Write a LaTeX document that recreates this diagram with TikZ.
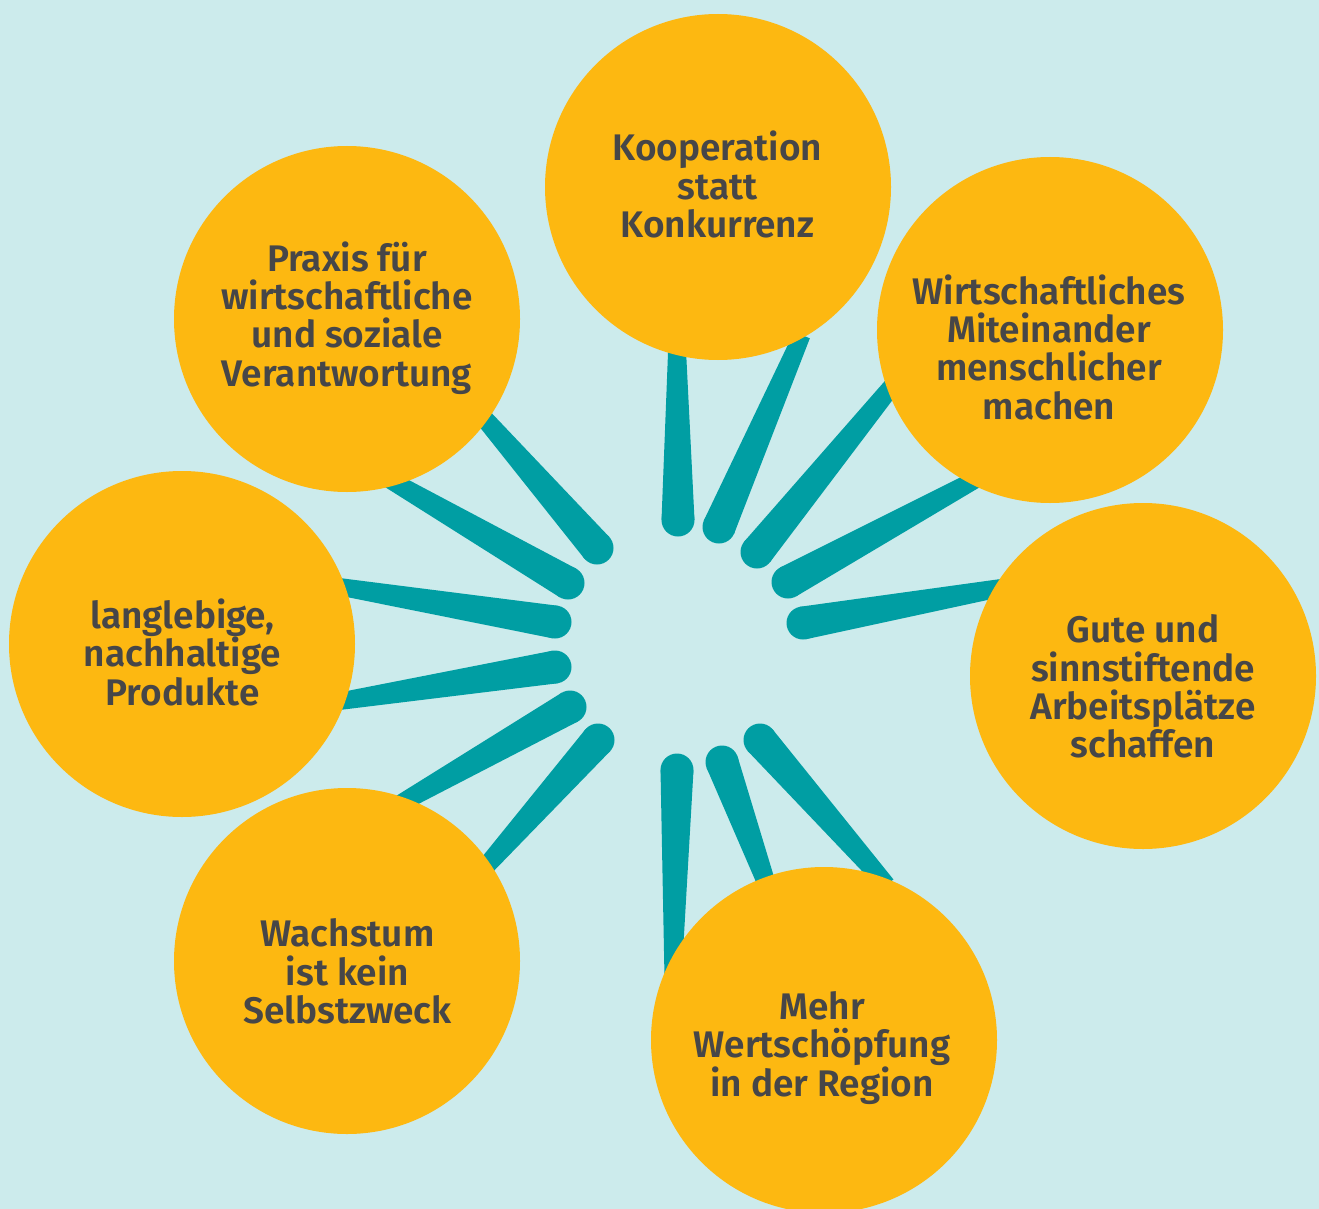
\documentclass[tikz,border=0pt]{standalone}
\usepackage{fontspec}
\newfontfamily\lblfont{Fira Sans SemiBold}
\usetikzlibrary{calc}
\definecolor{bgc}{RGB}{204,235,236}
\definecolor{orng}{RGB}{253,184,17}
\definecolor{tealc}{RGB}{0,158,163}
\definecolor{txtc}{RGB}{70,70,72}
\newcommand\Tp{\rule{0pt}{0.989em}}
\newcommand\Bt{\rule[-0.3em]{0pt}{0.3em}}
\newcommand\spoke[2]{%
  \fill[tealc] (#1) circle[radius=16.5pt];
  \fill[tealc] ($(#1)!16.5pt!90:(#2)$) -- ($(#2)!8.5pt!-90:(#1)$) -- ($(#2)!8.5pt!90:(#1)$) -- ($(#1)!16.5pt!-90:(#2)$) -- cycle;}
\tikzset{
  circ/.style={circle, fill=orng, minimum size=346pt, inner sep=0pt, draw=none},
  lbl/.style={align=center, inner sep=0pt, text=txtc, font={\lblfont\fontsize{37}{38.3}\selectfont}},
}
\begin{document}
\begin{tikzpicture}[x=1pt,y=-1pt]
\fill[bgc] (0,0) rectangle (1319,1209);
\useasboundingbox (0,0) rectangle (1319,1209);
% spoke end points
\coordinate (i1) at (678,520);  \coordinate (o1) at (677,340);
\coordinate (i2) at (719,527);  \coordinate (o2) at (802,335);
\coordinate (i3) at (757,552);  \coordinate (o3) at (897,380);
\coordinate (i4) at (788,582);  \coordinate (o4) at (982,476);
\coordinate (i5) at (803,623);  \coordinate (o5) at (1012,586);
\coordinate (i6) at (677,770);  \coordinate (o6) at (673,978);
\coordinate (i7) at (722,762);  \coordinate (o7) at (770,893);
\coordinate (i8) at (760,740);  \coordinate (o8) at (887,885);
\coordinate (i9) at (597,548);  \coordinate (o9) at (477,410);
\coordinate (i10) at (568,583); \coordinate (o10) at (385,477);
\coordinate (i11) at (555,622); \coordinate (o11) at (335,586);
\coordinate (i12) at (555,667); \coordinate (o12) at (335,702);
\coordinate (i13) at (570,707); \coordinate (o13) at (396,806);
\coordinate (i14) at (598,740); \coordinate (o14) at (480,873);
\foreach \k in {1,...,14} {\spoke{i\k}{o\k}}
% circles
\node[circ] (c1) at (718,187) {};
\node[circ] (c2) at (1050,330) {};
\node[circ] (c3) at (1143,676) {};
\node[circ] (c4) at (824,1040) {};
\node[circ] (c5) at (347,961) {};
\node[circ] (c6) at (182,644) {};
\node[circ] (c7) at (347,319) {};
% texts
\node[lbl] (t1) at (717.5,186.5) {\Tp Kooperation\\statt\\Konkurrenz\Bt};
\node[lbl] (t2) at (1049,349) {\Tp Wirtschaftliches\\Miteinander\\menschlicher\\machen\Bt};
\node[lbl] (t3) at (1143,687.5) {\Tp Gute und\\sinnstiftende\\Arbeitsplätze\\schaffen\Bt};
\node[lbl] (t4) at (822,1045) {\Tp Mehr\\Wertschöpfung\\in der Region\Bt};
\node[lbl] (t5) at (347.5,972.5) {\Tp Wachstum\\ist kein\\Selbstzweck\Bt};
\node[lbl] (t6) at (182.5,654) {\Tp langlebige,\\nachhaltige\\Produkte\Bt};
\node[lbl] (t7) at (347,316) {\Tp Praxis für\\wirtschaftliche\\und soziale\\Verantwortung\Bt};
\end{tikzpicture}
\end{document}
